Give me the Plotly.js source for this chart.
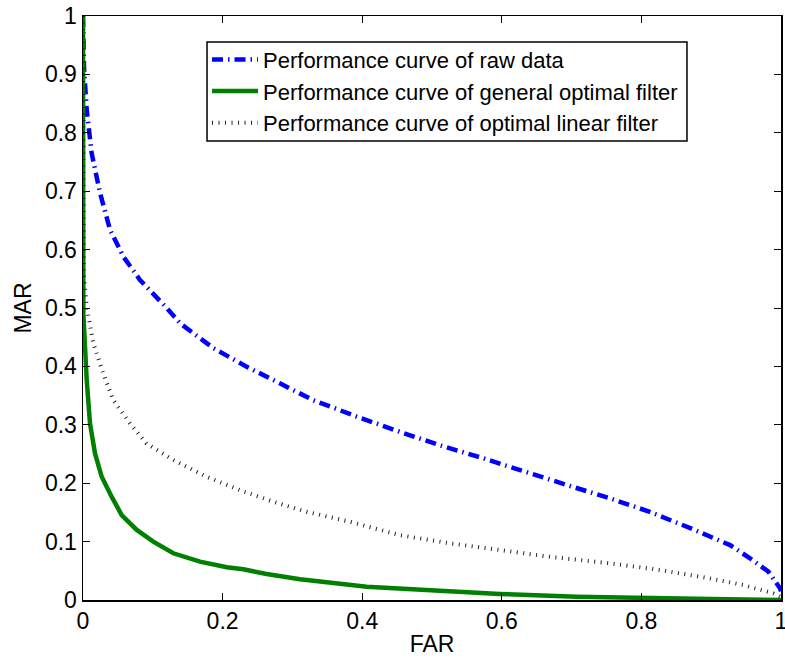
<!DOCTYPE html>
<html>
<head>
<meta charset="utf-8">
<script src="https://cdn.plot.ly/plotly-3.0.1.min.js"></script>
<style>
html,body{margin:0;padding:0;background:#fff;}
#chart{width:785px;height:660px;}
</style>
</head>
<body>
<div id="chart"></div>
<script>
// Performance curve of raw data
const rawX = [0, 0.0015, 0.0053, 0.0124, 0.0244, 0.0387, 0.0578, 0.0817, 0.12, 0.139, 0.187, 0.2345, 0.282, 0.33, 0.368, 0.392, 0.454, 0.511, 0.5735, 0.631, 0.693, 0.755, 0.812, 0.870, 0.927, 0.9556, 0.982, 0.9986, 1];
const rawY = [1, 0.91, 0.839, 0.765, 0.697, 0.634, 0.588, 0.548, 0.500, 0.474, 0.431, 0.3995, 0.371, 0.342, 0.325, 0.314, 0.288, 0.265, 0.2426, 0.2197, 0.197, 0.174, 0.151, 0.123, 0.094, 0.0714, 0.0485, 0.02, 0.015];

// Performance curve of general optimal filter
const genX = [0, 0.0005, 0.0053, 0.01, 0.0172, 0.0268, 0.041, 0.0554, 0.077, 0.1007, 0.1294, 0.1676, 0.206, 0.2297, 0.263, 0.311, 0.4064, 0.502, 0.597, 0.707, 0.8, 0.9, 1];
const genY = [1, 0.49, 0.377, 0.3025, 0.251, 0.211, 0.177, 0.1455, 0.12, 0.1, 0.08, 0.0656, 0.056, 0.0525, 0.0445, 0.0354, 0.0228, 0.016, 0.0103, 0.0057, 0.003, 0.0015, 0];

// Performance curve of optimal linear filter
const linX = [0, 0.0005, 0.001, 0.0053, 0.0148, 0.029, 0.0435, 0.0673, 0.091, 0.1294, 0.177, 0.225, 0.2727, 0.3205, 0.3825, 0.454, 0.526, 0.597, 0.669, 0.755, 0.8266, 0.898, 0.946, 0.989, 1];
const linY = [1, 0.6, 0.56, 0.502, 0.4395, 0.388, 0.342, 0.3025, 0.268, 0.2397, 0.211, 0.188, 0.1683, 0.151, 0.134, 0.111, 0.097, 0.0856, 0.074, 0.0628, 0.0514, 0.037, 0.0257, 0.0114, 0.005];

const seriesNames = ["Performance curve of raw data", "Performance curve of general optimal filter", "Performance curve of optimal linear filter"];
const xTicks = [0, 0.2, 0.4, 0.6, 0.8, 1];
const yTicks = [0, 0.1, 0.2, 0.3, 0.4, 0.5, 0.6, 0.7, 0.8, 0.9, 1];

const FONT = "Liberation Sans, Arial, Helvetica, sans-serif";

const traces = [
  {x: rawX, y: rawY, name: seriesNames[0], mode: 'lines', legendgroup: 'a',
   line: {color: '#0000ff', width: 4.5, dash: '11px,5px,1.5px,5px'}},
  {x: genX, y: genY, name: seriesNames[1], mode: 'lines', legendgroup: 'b',
   line: {color: '#008000', width: 4.5}},
  {x: linX, y: linY, name: seriesNames[2], mode: 'lines', legendgroup: 'c',
   line: {color: '#222222', width: 4, dash: '1px,5.5px'}}
];

const axisCommon = {
  showgrid: false, zeroline: false, showline: true, linecolor: '#000', linewidth: 1.5,
  mirror: 'ticks', ticks: 'inside', ticklen: 7, tickwidth: 1, tickcolor: '#000',
  tickfont: {family: FONT, size: 23, color: '#000'}, range: [0, 1], fixedrange: true,
  ticklabeloverflow: 'allow'
};

const layout = {
  width: 785, height: 660,
  margin: {l: 83, r: 4, t: 16, b: 60, pad: 0},
  paper_bgcolor: '#fff', plot_bgcolor: '#fff',
  font: {family: FONT, color: '#000'},
  showlegend: true,
  legend: {
    x: 0.1777, y: 0.9612, xanchor: 'left', yanchor: 'top',
    bgcolor: 'rgba(0,0,0,0)', borderwidth: 0,
    font: {family: FONT, size: 22, color: '#000'},
    traceorder: 'grouped', tracegroupgap: 0, itemwidth: 46
  },
  shapes: [{
    type: 'rect', xref: 'paper', yref: 'paper',
    x0: 0.1777, x1: 0.8653, y0: 0.786, y1: 0.9555,
    line: {color: '#000', width: 1.5}, fillcolor: '#fff', layer: 'above'
  }],
  xaxis: Object.assign({}, axisCommon, {
    tickvals: xTicks, ticktext: xTicks.map(String),
    title: {text: 'FAR', font: {family: FONT, size: 23, color: '#000'}, standoff: 3}
  }),
  yaxis: Object.assign({}, axisCommon, {
    tickvals: yTicks, ticktext: yTicks.map(String),
    title: {text: 'MAR', font: {family: FONT, size: 23, color: '#000'}, standoff: 7}
  })
};

Plotly.newPlot('chart', traces, layout, {staticPlot: true, displayModeBar: false});
</script>
</body>
</html>
